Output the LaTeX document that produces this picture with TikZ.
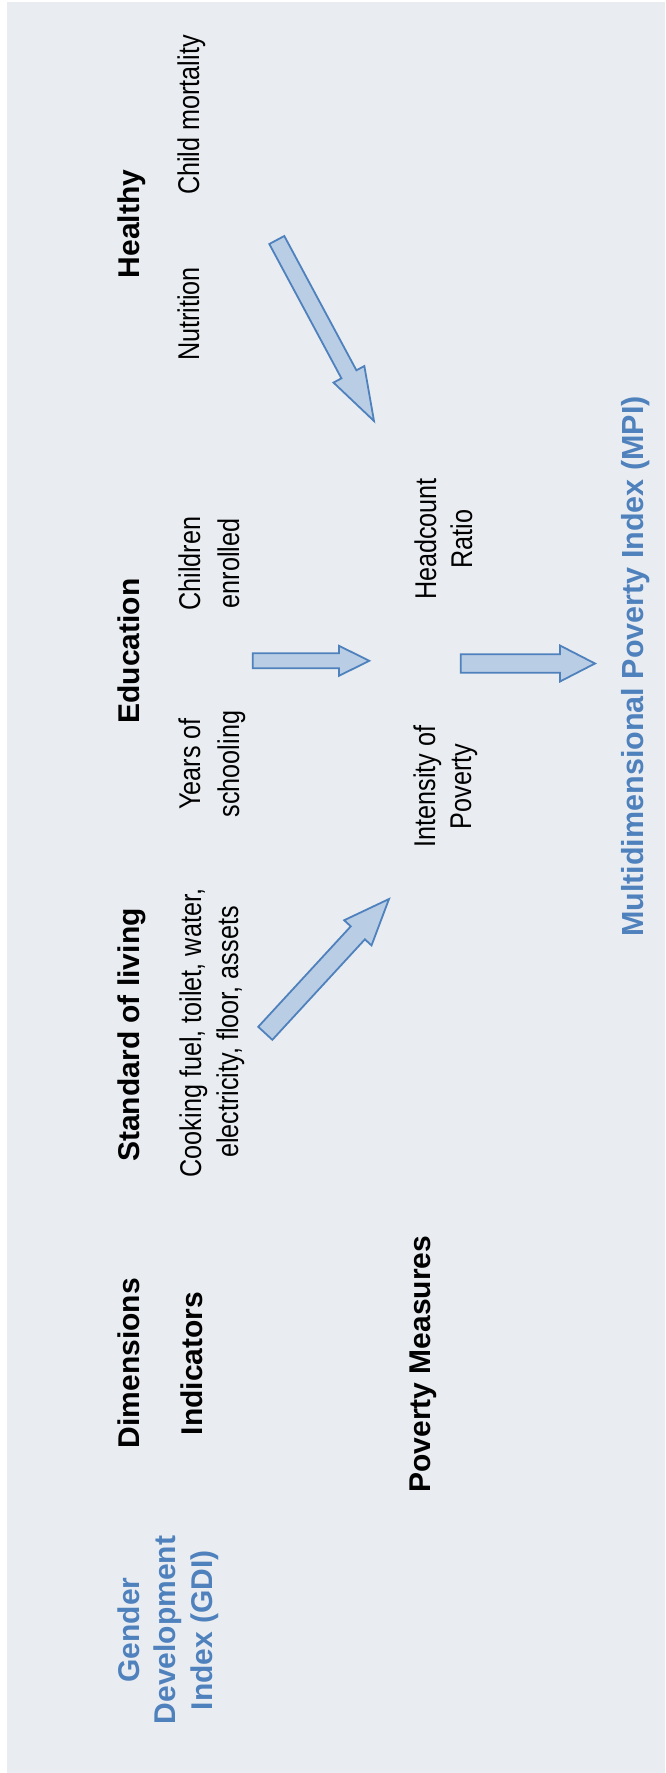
\documentclass[tikz,border=0pt]{standalone}
\usepackage{fontspec}
\setmainfont{Liberation Sans}
\newfontfamily\condfont[FakeStretch=0.84]{Liberation Sans}
\usetikzlibrary{calc}
\definecolor{bgc}{RGB}{233,237,241}
\definecolor{blueT}{RGB}{79,129,189}
\definecolor{arrowfill}{RGB}{185,205,229}
\definecolor{arrowline}{RGB}{79,129,189}
% #1 name, #2 start, #3 end, #4 shaft half width, #5 head half width, #6 head length
\newcommand\blockarrow[6]{%
  \coordinate (#1neck) at ($(#3)!#6!(#2)$);
  \draw[barrow] ($(#2)!#4!90:(#3)$) -- ($(#1neck)!#4!90:(#3)$) -- ($(#1neck)!#5!90:(#3)$)
    -- (#3) -- ($(#1neck)!#5!-90:(#3)$) -- ($(#1neck)!#4!-90:(#3)$) -- ($(#2)!#4!-90:(#3)$) -- cycle;
}
\begin{document}
\begin{tikzpicture}[x=1pt,y=-1pt,
  every node/.style={inner sep=0pt, outer sep=0pt, rotate=90, anchor=base},
  dimtitle/.style={font=\fontsize{30}{36}\selectfont\bfseries},
  indtext/.style={font=\condfont\fontsize{30}{36}\selectfont},
  idxtext/.style={font=\fontsize{30}{36}\selectfont\bfseries, text=blueT},
  barrow/.style={draw=arrowline, fill=arrowfill, line width=1.8pt, line join=miter}]
\useasboundingbox (0,0) rectangle (665,1773);
\fill[bgc] (7,2) rectangle (665,1773);

% dimensions row
\node[dimtitle] (dim) at (139.5,1363) {Dimensions};
\node[dimtitle] (sol) at (139.5,1035) {Standard of living};
\node[dimtitle] (edu) at (139.5,651) {Education};
\node[dimtitle] (hea) at (139.5,224) {Healthy};

% indicators row
\node[dimtitle] (ind) at (202.5,1363.5) {Indicators};
\node[indtext] (cm) at (199,115) {Child mortality};
\node[indtext] (nut) at (199,314) {Nutrition};
\node[indtext] (chA) at (200,563.5) {Children};
\node[indtext] (chB) at (239,563.5) {enrolled};
\node[indtext] (yrA) at (200,764) {Years of};
\node[indtext] (yrB) at (239,764) {schooling};
\node[indtext] (ckA) at (201,1033) {Cooking fuel, toilet, water,};
\node[indtext] (ckB) at (238,1032) {electricity, floor, assets};

% poverty measures row
\node[dimtitle] (pm) at (430,1364) {Poverty Measures};
\node[indtext] (hcA) at (436,539) {Headcount};
\node[indtext] (hcB) at (472,539) {Ratio};
\node[indtext] (ipA) at (435,786.5) {Intensity of};
\node[indtext] (ipB) at (471,786.5) {Poverty};

% indices
\node[idxtext] (gdiA) at (139,1630) {Gender};
\node[idxtext] (gdiB) at (175.5,1630) {Development};
\node[idxtext] (gdiC) at (212,1630) {Index (GDI)};
\node[idxtext, font=\fontsize{30.5}{36}\selectfont\bfseries] (mpi) at (643,666.5) {Multidimensional Poverty Index (MPI)};

% block arrows
\coordinate (heaS) at (276.8,240);
\coordinate (heaE) at (374,421);
\coordinate (solS) at (265.3,1033.3);
\coordinate (solE) at (389,899);
\coordinate (eduS) at (252.7,660.8);
\coordinate (eduE) at (369.3,660.8);
\coordinate (mpiS) at (460.7,663.5);
\coordinate (mpiE) at (595,663.5);
\blockarrow{hea}{heaS}{heaE}{8.5pt}{17.5pt}{53pt}
\blockarrow{sol}{solS}{solE}{9.6pt}{18.6pt}{46pt}
\blockarrow{edu}{eduS}{eduE}{7.5pt}{15pt}{30.3pt}
\blockarrow{mpi}{mpiS}{mpiE}{9.2pt}{18pt}{35pt}
\end{tikzpicture}
\end{document}
